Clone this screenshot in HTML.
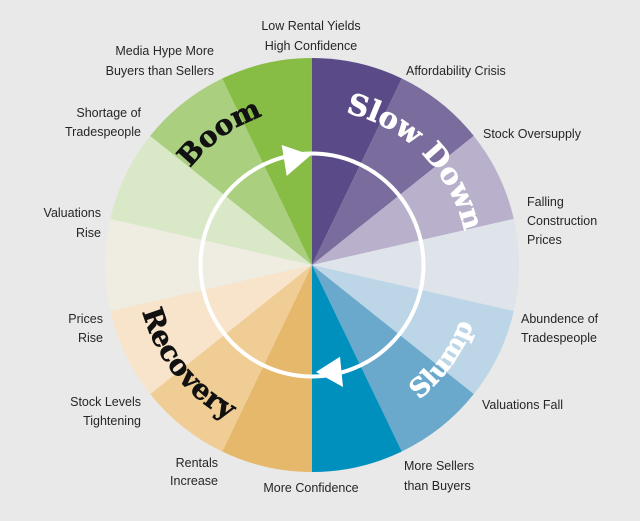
<!DOCTYPE html>
<html><head><meta charset="utf-8"><style>
html,body{margin:0;padding:0;background:#e9e9ea;}
svg{display:block;}
.l{font-family:"Liberation Sans",sans-serif;font-size:12.5px;fill:#262626;}
.t{font-family:"DejaVu Serif","Liberation Serif",serif;font-weight:bold;}
</style></head><body>
<svg width="640" height="521" viewBox="0 0 640 521" xmlns="http://www.w3.org/2000/svg">
<rect width="640" height="521" fill="#e9e9ea"/>
<defs>
<path id="w" d="M312 265 L312 58 A207 207 0 0 1 401.8 78.5 Z"/>
<path id="pSlow" d="M339.1 111.4 A156 156 0 0 1 465.6 237.9"/>
<path id="pBoom" d="M186.2 173.7 A157 157 0 0 1 269.3 114.0"/>
<path id="pRec" d="M139.9 301.6 A176 176 0 0 0 237.6 424.5"/>
<path id="pSlump" d="M417.9 400.5 A172 172 0 0 0 473.6 323.8"/>
</defs>
<g>
<use href="#w" fill="#5a4a87" transform="rotate(0 312 265)"/>
<use href="#w" fill="#7b6c9e" transform="rotate(25.714 312 265)"/>
<use href="#w" fill="#b9b1cc" transform="rotate(51.429 312 265)"/>
<use href="#w" fill="#dfe3ea" transform="rotate(77.143 312 265)"/>
<use href="#w" fill="#bdd6e7" transform="rotate(102.857 312 265)"/>
<use href="#w" fill="#6aa9cc" transform="rotate(128.571 312 265)"/>
<use href="#w" fill="#0090bd" transform="rotate(154.286 312 265)"/>
<use href="#w" fill="#e6b86b" transform="rotate(180 312 265)"/>
<use href="#w" fill="#f0cd95" transform="rotate(205.714 312 265)"/>
<use href="#w" fill="#f7e4ca" transform="rotate(231.429 312 265)"/>
<use href="#w" fill="#efece1" transform="rotate(257.143 312 265)"/>
<use href="#w" fill="#d9e8c7" transform="rotate(282.857 312 265)"/>
<use href="#w" fill="#a9cf7f" transform="rotate(308.571 312 265)"/>
<use href="#w" fill="#88bd45" transform="rotate(334.286 312 265)"/>
</g>
<circle cx="312" cy="265" r="111.5" fill="none" stroke="#fff" stroke-width="4"/>
<polygon points="281.7,145 286.7,176 311,155" fill="#fff"/>
<polygon points="316,372 343,387 340,356.7" fill="#fff"/>

<text class="t" font-size="29" fill="#fff" stroke="#fff" stroke-width="0.6"><textPath href="#pSlow" startOffset="50%" text-anchor="middle">Slow Down</textPath></text>
<text class="t" font-size="28" fill="#111" stroke="#111" stroke-width="0.6"><textPath href="#pBoom" startOffset="50%" text-anchor="middle">Boom</textPath></text>
<text class="t" font-size="28" fill="#111" stroke="#111" stroke-width="0.6"><textPath href="#pRec" startOffset="50%" text-anchor="middle">Recovery</textPath></text>
<text class="t" font-size="26" fill="#fff" stroke="#fff" stroke-width="0.6"><textPath href="#pSlump" startOffset="50%" text-anchor="middle">Slump</textPath></text>

<g class="l">
<text x="311" y="30" text-anchor="middle">Low Rental Yields</text>
<text x="311" y="50" text-anchor="middle">High Confidence</text>
<text x="214" y="55" text-anchor="end">Media Hype More</text>
<text x="214" y="75" text-anchor="end">Buyers than Sellers</text>
<text x="141" y="117" text-anchor="end">Shortage of</text>
<text x="141" y="136" text-anchor="end">Tradespeople</text>
<text x="101" y="217" text-anchor="end">Valuations</text>
<text x="101" y="237" text-anchor="end">Rise</text>
<text x="103" y="323" text-anchor="end">Prices</text>
<text x="103" y="342" text-anchor="end">Rise</text>
<text x="141" y="406" text-anchor="end">Stock Levels</text>
<text x="141" y="425" text-anchor="end">Tightening</text>
<text x="218" y="467" text-anchor="end">Rentals</text>
<text x="218" y="485" text-anchor="end">Increase</text>
<text x="311" y="492" text-anchor="middle">More Confidence</text>
<text x="404" y="470">More Sellers</text>
<text x="404" y="490">than Buyers</text>
<text x="482" y="409">Valuations Fall</text>
<text x="521" y="323">Abundence of</text>
<text x="521" y="342">Tradespeople</text>
<text x="527" y="206">Falling</text>
<text x="527" y="225">Construction</text>
<text x="527" y="244">Prices</text>
<text x="483" y="138">Stock Oversupply</text>
<text x="406" y="75">Affordability Crisis</text>
</g>
</svg>
</body></html>
